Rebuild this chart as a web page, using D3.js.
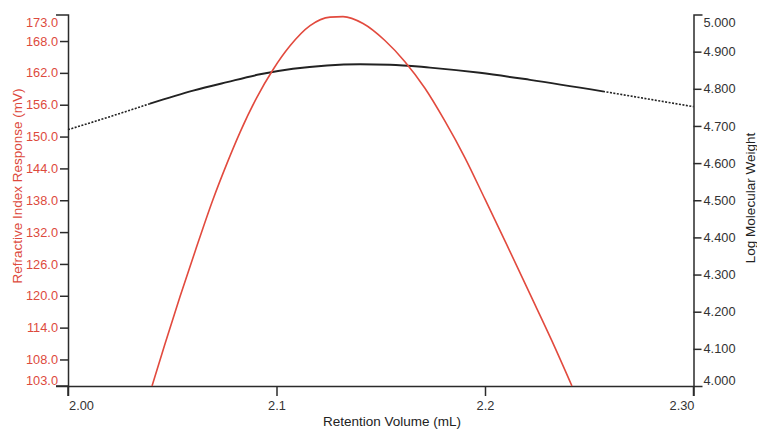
<!DOCTYPE html>
<html>
<head>
<meta charset="utf-8">
<script src="https://cdn.jsdelivr.net/npm/d3@7"></script>
<style>
  body { margin: 0; background: white; }
  svg { display: block; font-family: "Liberation Sans", Arial, sans-serif; }
</style>
</head>
<body>
<script>
// Refractive index trace (mV) vs retention volume (mL)
var riVolume = [2.0403, 2.0465, 2.0537, 2.0609, 2.0695, 2.0763, 2.0825, 2.0906, 2.0983, 2.1065,
                2.1161, 2.1257, 2.1319, 2.1415, 2.1520, 2.1616, 2.1712, 2.1808, 2.1904, 2.2000,
                2.2106, 2.2216, 2.2321, 2.2417];
var riValue  = [103.0, 110.9, 119.8, 128.3, 138.1, 145.0, 150.8, 157.4, 162.6, 167.1,
                170.9, 172.5, 172.6, 171.3, 168.1, 164.1, 159.1, 152.9, 146.0, 138.2,
                129.5, 120.3, 111.5, 103.0];

// Log molecular weight calibration curve
var mwVolume = [2.000, 2.0201, 2.0393, 2.0600, 2.0763, 2.0921, 2.1079, 2.1242, 2.1401, 2.1544,
                2.1736, 2.1976, 2.2216, 2.2566, 2.300];
var mwValue  = [4.690, 4.725, 4.760, 4.795, 4.818, 4.839, 4.854, 4.863, 4.866, 4.865,
                4.857, 4.843, 4.824, 4.793, 4.752];
// solid part of the calibration line (outside is drawn dotted)
var mwSolidFrom = 2.0393;
var mwSolidTo = 2.2566;

var xTicks = [2.0, 2.1, 2.2, 2.3];
var xTickLabels = ["2.00", "2.1", "2.2", "2.30"];
var leftTicks = [103, 108, 114, 120, 126, 132, 138, 144, 150, 156, 162, 168, 173];
var rightTicks = [4.0, 4.1, 4.2, 4.3, 4.4, 4.5, 4.6, 4.7, 4.8, 4.9, 5.0];

var width = 757, height = 429;
var redText = "#dd4a3d";
var redLine = "#e24a3e";
var axisColor = "#2b2b2b";

var svg = d3.select("body").append("svg")
            .attr("width", width)
            .attr("height", height);

var x = d3.scaleLinear().domain([2.0, 2.3]).range([68, 693.5]);
var yLeft = d3.scaleLinear().domain([103, 173]).range([386, 14.5]);
var yRight = d3.scaleLinear().domain([4.0, 5.0]).range([386, 14.5]);

// Axes
var xAxis = svg.append("g")
               .attr("transform", "translate(0,386)")
               .call(d3.axisBottom(x)
                       .tickValues(xTicks)
                       .tickSize(10)
                       .tickSizeOuter(0)
                       .tickFormat(function (d, i) { return xTickLabels[i]; }));

var leftAxis = svg.append("g")
                  .attr("transform", "translate(68,0)")
                  .call(d3.axisLeft(yLeft)
                          .tickValues(leftTicks)
                          .tickSize(8)
                          .tickSizeOuter(12)
                          .tickFormat(d3.format(".1f")));

var rightAxis = svg.append("g")
                   .attr("transform", "translate(693.5,0)")
                   .call(d3.axisRight(yRight)
                           .tickValues(rightTicks)
                           .tickSize(8)
                           .tickSizeOuter(9)
                           .tickFormat(d3.format(".3f")));

// bottom axis line runs a bit past the left axis
svg.append("line")
   .attr("x1", 56).attr("x2", 68)
   .attr("y1", 386).attr("y2", 386)
   .attr("stroke", axisColor)
   .attr("stroke-width", 1.5);

[xAxis, leftAxis, rightAxis].forEach(function (g) {
    g.selectAll("path, line").attr("stroke", axisColor).attr("stroke-width", 1.5);
    g.selectAll("text").attr("font-size", 12.8).attr("font-family", "'Liberation Sans', Arial, sans-serif");
});

xAxis.selectAll("text").attr("fill", "#333").attr("dy", "0.85em");
xAxis.selectAll(".tick").filter(function (d) { return d === 2.0; }).select("text").attr("dx", 13);
xAxis.selectAll(".tick").filter(function (d) { return d === 2.3; }).select("text").attr("dx", -12);

leftAxis.selectAll("text").attr("fill", redText).attr("x", -10);
leftAxis.selectAll(".tick").filter(function (d) { return d === 103 || d === 173; })
        .select("line").remove();
leftAxis.selectAll(".tick").filter(function (d) { return d === 173; }).select("text").attr("dy", "0.95em");
leftAxis.selectAll(".tick").filter(function (d) { return d === 103; }).select("text").attr("dy", "-0.15em");

rightAxis.selectAll("text").attr("fill", "#333").attr("x", 10);
rightAxis.selectAll(".tick").filter(function (d) { return d === 4.0 || d === 5.0; })
         .select("line").remove();
rightAxis.selectAll(".tick").filter(function (d) { return d === 5.0; }).select("text").attr("dy", "0.95em");
rightAxis.selectAll(".tick").filter(function (d) { return d === 4.0; }).select("text").attr("dy", "-0.15em");

// axis ends hang below the bottom axis
svg.append("line").attr("x1", 68).attr("x2", 68).attr("y1", 386).attr("y2", 396)
   .attr("stroke", axisColor).attr("stroke-width", 1.5);
svg.append("line").attr("x1", 693.5).attr("x2", 693.5).attr("y1", 386).attr("y2", 396)
   .attr("stroke", axisColor).attr("stroke-width", 1.5);

// Curves
var riData = riVolume.map(function (v, i) { return [v, riValue[i]]; });
var mwData = mwVolume.map(function (v, i) { return [v, mwValue[i]]; });

var riLine = d3.line()
               .x(function (d) { return x(d[0]); })
               .y(function (d) { return yLeft(d[1]); })
               .curve(d3.curveMonotoneX);

var mwLine = d3.line()
               .x(function (d) { return x(d[0]); })
               .y(function (d) { return yRight(d[1]); })
               .curve(d3.curveMonotoneX);

var mwLeft = mwData.filter(function (d) { return d[0] <= mwSolidFrom; });
var mwMid = mwData.filter(function (d) { return d[0] >= mwSolidFrom && d[0] <= mwSolidTo; });
var mwRight = mwData.filter(function (d) { return d[0] >= mwSolidTo; });

[mwLeft, mwRight].forEach(function (seg) {
    svg.append("path")
       .attr("d", mwLine(seg))
       .attr("fill", "none")
       .attr("stroke", "#222")
       .attr("stroke-width", 1.6)
       .attr("stroke-dasharray", "2,1.5");
});

svg.append("path")
   .attr("d", mwLine(mwMid))
   .attr("fill", "none")
   .attr("stroke", "#222")
   .attr("stroke-width", 2);

svg.append("path")
   .attr("d", riLine(riData))
   .attr("fill", "none")
   .attr("stroke", redLine)
   .attr("stroke-width", 1.6);

// Titles
svg.append("text")
   .attr("transform", "translate(22,186) rotate(-90)")
   .attr("text-anchor", "middle")
   .attr("font-size", 13.5)
   .attr("fill", redText)
   .text("Refractive Index Response (mV)");

svg.append("text")
   .attr("transform", "translate(755,198) rotate(-90)")
   .attr("text-anchor", "middle")
   .attr("font-size", 13.5)
   .attr("fill", "#222")
   .text("Log Molecular Weight");

svg.append("text")
   .attr("x", 392)
   .attr("y", 426)
   .attr("text-anchor", "middle")
   .attr("font-size", 13.5)
   .attr("fill", "#222")
   .text("Retention Volume (mL)");
</script>
</body>
</html>
